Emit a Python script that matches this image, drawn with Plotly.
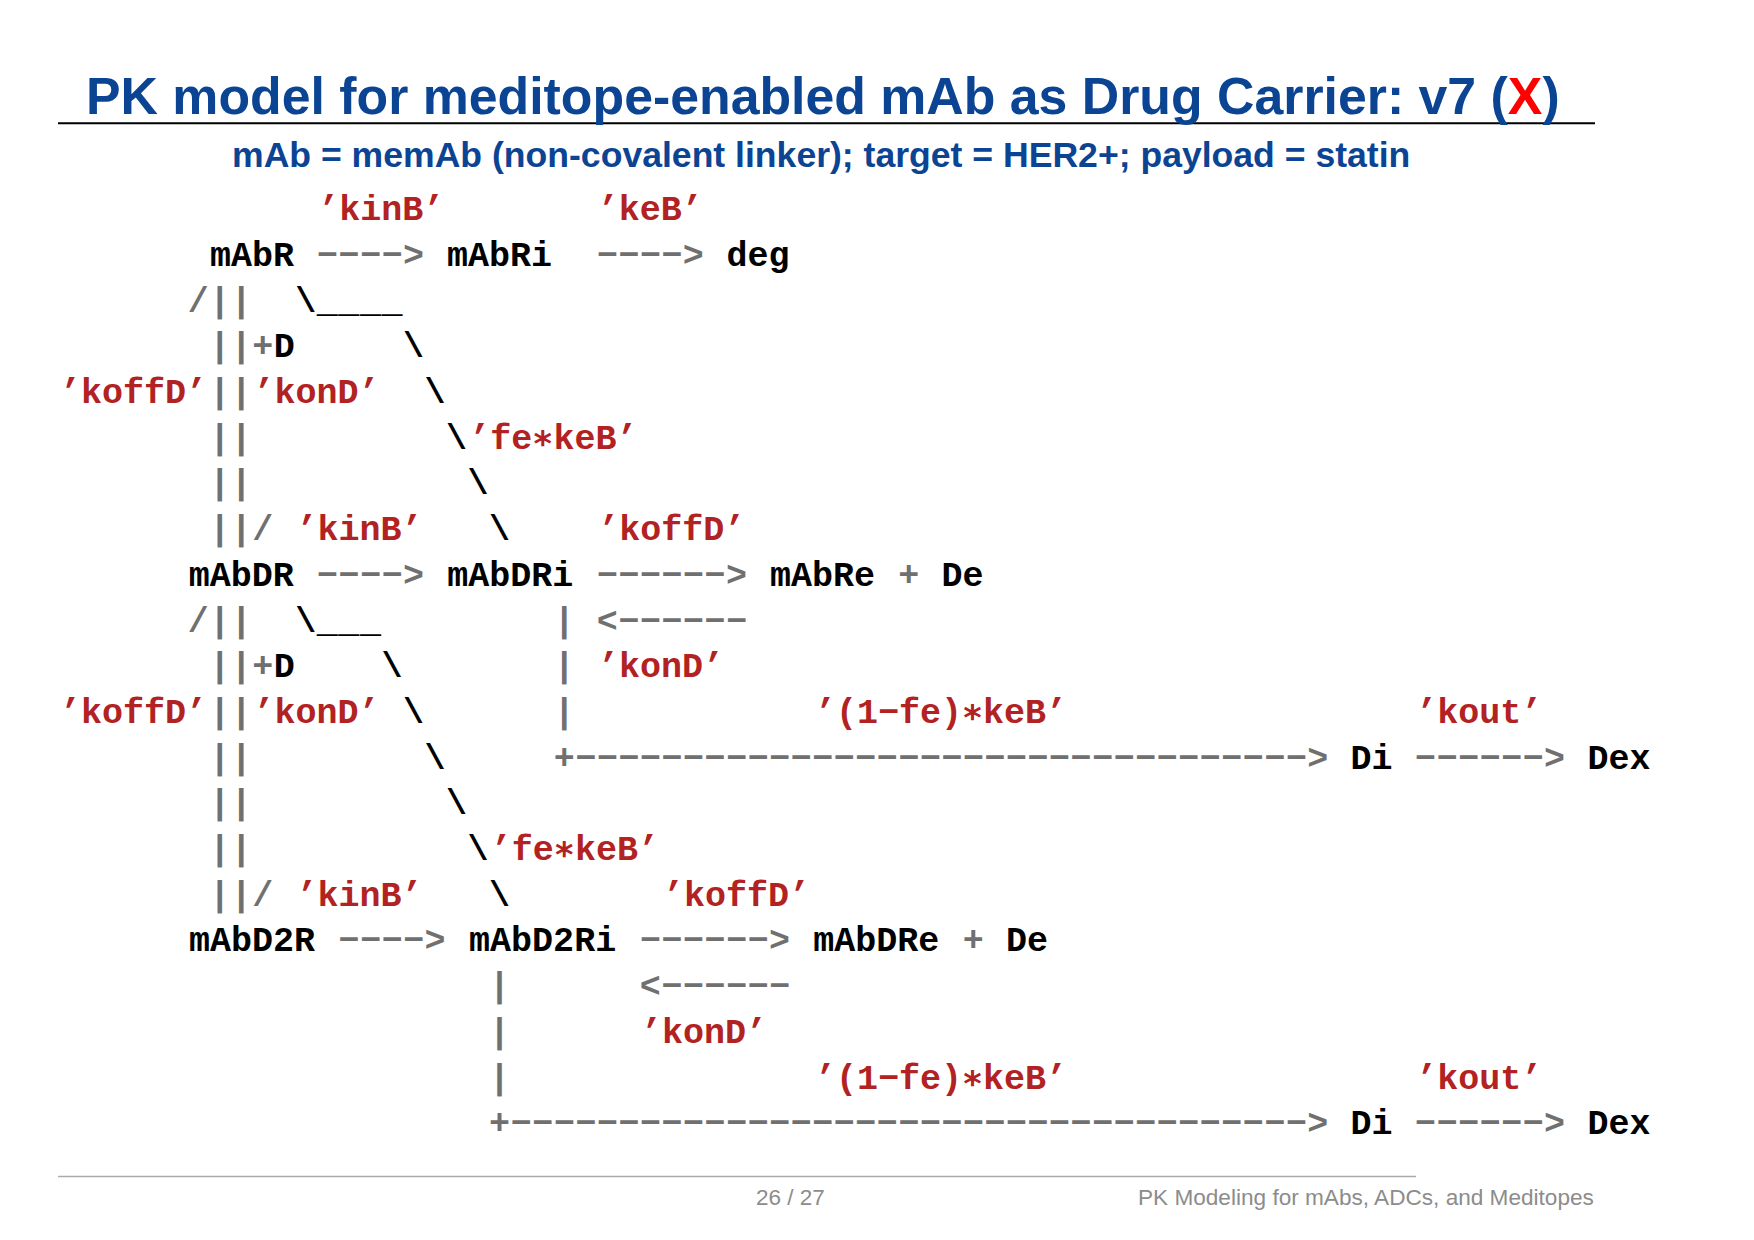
import re
import plotly.graph_objects as go

# ---------------- content ----------------
TITLE_MAIN = "PK model for meditope-enabled mAb as Drug Carrier: v7 ("
TITLE_FLAG = "X"
TITLE_END = ")"
SUBTITLE = "mAb = memAb (non-covalent linker); target = HER2+; payload = statin"
PAGE_LABEL = "26 / 27"
FOOTER_LABEL = "PK Modeling for mAbs, ADCs, and Meditopes"

# ASCII reaction scheme, one string per text row (fixed-width columns)
DIAGRAM_ROWS = [
    "            'kinB'       'keB'",
    "       mAbR ----> mAbRi  ----> deg",
    "      /||  \\____",
    "       ||+D     \\",
    "'koffD'||'konD'  \\",
    "       ||         \\'fe*keB'",
    "       ||          \\",
    "       ||/ 'kinB'   \\    'koffD'",
    "      mAbDR ----> mAbDRi ------> mAbRe + De",
    "      /||  \\___        | <------",
    "       ||+D    \\       | 'konD'",
    "'koffD'||'konD' \\      |           '(1-fe)*keB'                'kout'",
    "       ||        \\     +----------------------------------> Di ------> Dex",
    "       ||         \\",
    "       ||          \\'fe*keB'",
    "       ||/ 'kinB'   \\       'koffD'",
    "      mAbD2R ----> mAbD2Ri ------> mAbDRe + De",
    "                    |      <------",
    "                    |      'konD'",
    "                    |              '(1-fe)*keB'                'kout'",
    "                    +-------------------------------------> Di ------> Dex",
]

# ---------------- styling ----------------
W, H = 1754, 1240
COL0, COLW = 58.2, 21.53
ROW0, ROWH = 211.5, 45.7
MONO = "Liberation Mono, Courier New, monospace"
SANS = "Liberation Sans, Arial, Helvetica, sans-serif"
BLUE = "#0C4494"
RED_LABEL = "#B22222"
GRAY = "#707070"
BLACK = "#000000"
MONO_SIZE = 35
# typeset glyphs as in the listing (minus sign for hyphen, centred asterisk)
GLYPH = {"'": "\u2019", "-": "\u2212", "*": "\u2217"}


def typeset(tok):
    return "".join(GLYPH.get(c, c) for c in tok)


groups = {"label": ([], [], []), "species": ([], [], []), "link": ([], [], [])}
for r, line in enumerate(DIAGRAM_ROWS):
    for m in re.finditer(r"'[^']*'|[A-Za-z0-9]+|\S", line):
        s, e = m.span()
        tok = m.group()
        if tok.startswith("'"):
            key = "label"
        elif tok.isalnum() or tok in ("\\", "_"):
            key = "species"
        else:
            key = "link"
        xs, ys, ts = groups[key]
        xs.append(COL0 + (s + e) / 2 * COLW)
        ys.append(ROW0 + r * ROWH)
        ts.append(typeset(tok))

colors = {"label": RED_LABEL, "species": BLACK, "link": GRAY}

fig = go.Figure()
for key in ("link", "species", "label"):
    xs, ys, ts = groups[key]
    fig.add_trace(go.Scatter(
        x=xs, y=ys, text=ts, mode="text", textposition="middle center",
        textfont=dict(family=MONO, size=MONO_SIZE, color=colors[key], weight="bold"),
        hoverinfo="skip", showlegend=False, cliponaxis=False,
    ))

annotations = [
    dict(x=84, y=96.3, xref="x", yref="y", xanchor="left", yanchor="middle",
         text=f"{TITLE_MAIN}<span style='color:#FF0000'>{TITLE_FLAG}</span>{TITLE_END}",
         showarrow=False, font=dict(family=SANS, size=51.8, color=BLUE, weight="bold")),
    dict(x=821, y=154.5, xref="x", yref="y", xanchor="center", yanchor="middle",
         text=SUBTITLE, showarrow=False,
         font=dict(family=SANS, size=35.6, color=BLUE, weight="bold")),
    dict(x=790, y=1197.4, xref="x", yref="y", xanchor="center", yanchor="middle",
         text=PAGE_LABEL, showarrow=False,
         font=dict(family=SANS, size=22.5, color="#8C8C8C")),
    dict(x=1596, y=1197.4, xref="x", yref="y", xanchor="right", yanchor="middle",
         text=FOOTER_LABEL, showarrow=False,
         font=dict(family=SANS, size=22.6, color="#8C8C8C")),
]

shapes = [
    dict(type="line", xref="x", yref="y", x0=58, x1=1595, y0=123.3, y1=123.3,
         line=dict(color="#000000", width=2)),
    dict(type="line", xref="x", yref="y", x0=58, x1=1416, y0=1176.5, y1=1176.5,
         line=dict(color="#AAAAAA", width=1.6)),
]

fig.update_layout(
    width=W, height=H, margin=dict(l=0, r=0, t=0, b=0),
    paper_bgcolor="white", plot_bgcolor="white",
    xaxis=dict(range=[0, W], visible=False, fixedrange=True),
    yaxis=dict(range=[H, 0], visible=False, fixedrange=True),
    annotations=annotations, shapes=shapes,
)

fig.write_html("out.html", config={"displayModeBar": False, "staticPlot": True},
               post_script="document.body.style.margin='0';document.body.style.overflow='hidden';")
